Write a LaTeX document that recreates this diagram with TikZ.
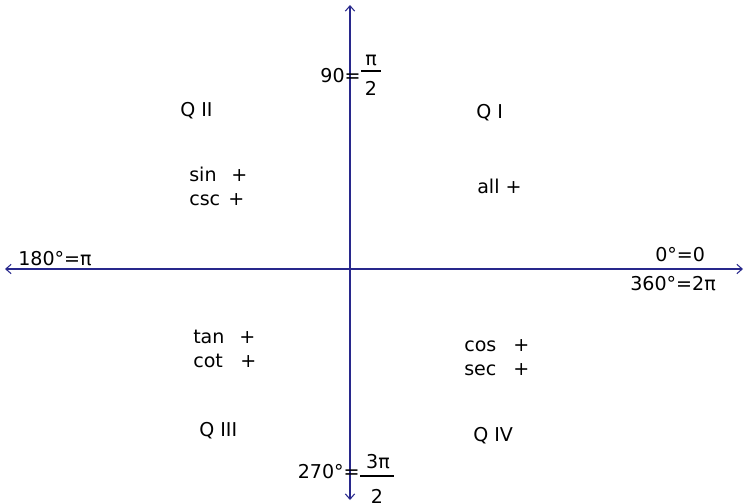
\documentclass[tikz,border=0pt]{standalone}
\usepackage{fontspec}
\setmainfont{DejaVu Sans}
\usetikzlibrary{arrows.meta}
\definecolor{axiscol}{RGB}{40,40,140}
\begin{document}
\begin{tikzpicture}[x=0.75pt,y=-0.75pt,
  axis/.style={draw=axiscol,line width=0.8pt,-{Straight Barb[length=4pt,width=7pt]}},
  lbl/.style={font=\fontsize{14.3}{17}\selectfont,inner sep=0pt,anchor=base west},
  fbar/.style={line width=1.5pt}]
\useasboundingbox (0,0) rectangle (744,504);
\coordinate (o) at (350,269);
\coordinate (xl) at (5,269);
\coordinate (xr) at (743,269);
\coordinate (yt) at (350,5);
\coordinate (yb) at (350,500);
\draw[axis] (o) -- (xr);
\draw[axis] (o) -- (xl);
\draw[axis] (o) -- (yt);
\draw[axis] (o) -- (yb);
% quadrant labels
\node[lbl] (q2) at (180,116) {Q II};
\node[lbl] (q1) at (476,118) {Q I};
\node[lbl] (q3) at (199,436) {Q III};
\node[lbl] (q4) at (473,441) {Q IV};
% signs
\node[lbl] (sin) at (189,181) {sin};
\node[lbl] (sinp) at (231,181) {+};
\node[lbl] (csc) at (189,205) {csc};
\node[lbl] (cscp) at (228,205) {+};
\node[lbl] (all) at (477,193) {all +};
\node[lbl] (tan) at (193,343) {tan};
\node[lbl] (tanp) at (239,343) {+};
\node[lbl] (cot) at (193,367) {cot};
\node[lbl] (cotp) at (240,367) {+};
\node[lbl] (cos) at (464,351) {cos};
\node[lbl] (cosp) at (513,351) {+};
\node[lbl] (sec) at (464,375) {sec};
\node[lbl] (secp) at (513,375) {+};
% axis labels
\node[lbl] (zero) at (655,261) {0°=0};
\node[lbl] (tsixty) at (630,290) {360°=2π};
\node[lbl] (oneeighty) at (18,265) {180°=π};
% 90 = pi/2
\node[lbl,anchor=base east] (ninety) at (361,82) {90=};
\node[lbl,anchor=base] (n90) at (371,65) {π};
\node[lbl,anchor=base] (d90) at (371,95) {2};
\coordinate (b90a) at (361,71);
\coordinate (b90b) at (381,71);
\draw[fbar] (b90a) -- (b90b);
% 270 = 3pi/2
\node[lbl,anchor=base east] (twoseventy) at (360,478) {270°=};
\node[lbl,anchor=base] (n270) at (378,468) {3π};
\node[lbl,anchor=base] (d270) at (377,503) {2};
\coordinate (b270a) at (360,476);
\coordinate (b270b) at (394,476);
\draw[fbar] (b270a) -- (b270b);
\end{tikzpicture}
\end{document}
